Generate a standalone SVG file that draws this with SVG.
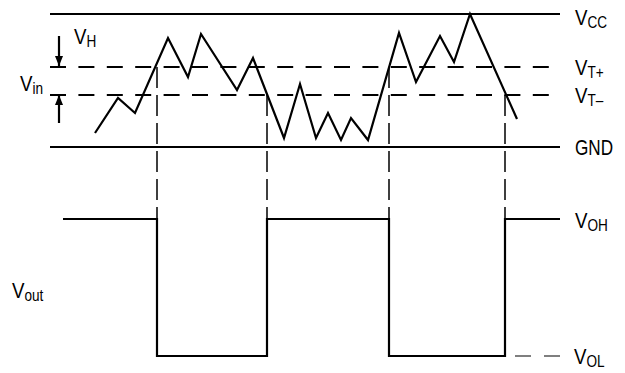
<svg xmlns="http://www.w3.org/2000/svg" width="625" height="373" viewBox="0 0 625 373">
<style>
.solid{stroke:#000;stroke-width:2.2;fill:none}
.hdash{stroke:#000;stroke-width:2.2;fill:none;stroke-dasharray:16 12.4}
.vdash{stroke:#000;stroke-width:1.5;fill:none;stroke-dasharray:21 7}
.lbl{font-family:"Liberation Sans",Arial,sans-serif;font-size:22px;fill:#000}
.sub{font-size:16px}
</style>
<defs>
<marker id="ah" viewBox="0 0 10 14" refX="10" refY="7" markerWidth="11" markerHeight="14" markerUnits="userSpaceOnUse" orient="auto">
<path d="M0,3 L10,7 L0,11 Z" fill="#000"/>
</marker>
</defs>
<g id="connectors">
<line id="vcc-line" class="solid" x1="50" y1="14" x2="560" y2="14"/>
<line id="vtp-line" class="hdash" x1="50" y1="67" x2="560" y2="67"/>
<line id="vtm-line" class="hdash" x1="50" y1="95" x2="560" y2="95"/>
<line id="gnd-line" class="solid" x1="50" y1="147" x2="560" y2="147"/>
<polyline id="vin-wave" class="solid" stroke-linejoin="miter" points="95,133 118,98 135,113 168,38 188,77 201,34 237,90 253,58 284,138 300,84 316,138 328,113 341,140 351,118 368,140 399,33 416,82 440,36 454,62 470,14 517,119"/>
<line class="vdash" x1="157" y1="67" x2="157" y2="219"/>
<line class="vdash" x1="267" y1="95" x2="267" y2="219"/>
<line class="vdash" x1="389" y1="67" x2="389" y2="219"/>
<line class="vdash" x1="505" y1="95" x2="505" y2="219"/>
<polyline id="vout-wave" class="solid" points="63,219 157,219 157,356 267,356 267,219 389,219 389,356 505,356 505,219 560,219"/>
<line id="vol-dash" x1="515" y1="356" x2="560" y2="356" stroke="#555" stroke-width="1.4" stroke-dasharray="16 13"/>
<line id="vh-arrow-down" class="solid" x1="59" y1="36" x2="59" y2="66" marker-end="url(#ah)"/>
<line id="vh-arrow-up" class="solid" x1="59" y1="123" x2="59" y2="95" marker-end="url(#ah)"/>
</g>
<g id="label-vcc" transform="translate(575,25) scale(0.85,1)"><text class="lbl">V<tspan class="sub" dy="3">CC</tspan></text></g>
<g id="label-vtp" transform="translate(575,75) scale(0.85,1)"><text class="lbl">V<tspan class="sub" dy="3">T+</tspan></text></g>
<g id="label-vtm" transform="translate(575,103) scale(0.85,1)"><text class="lbl">V<tspan class="sub" dy="3">T–</tspan></text></g>
<g id="label-gnd" transform="translate(575,155) scale(0.78,1)"><text class="lbl">GND</text></g>
<g id="label-voh" transform="translate(575,228) scale(0.85,1)"><text class="lbl">V<tspan class="sub" dy="3">OH</tspan></text></g>
<g id="label-vol" transform="translate(574,364) scale(0.85,1)"><text class="lbl">V<tspan class="sub" dy="3">OL</tspan></text></g>
<g id="label-vh" transform="translate(74,44) scale(0.85,1)"><text class="lbl">V<tspan class="sub" dy="3">H</tspan></text></g>
<g id="label-vin" transform="translate(20,91) scale(0.85,1)"><text class="lbl">V<tspan class="sub" dy="3">in</tspan></text></g>
<g id="label-vout" transform="translate(12,298) scale(0.85,1)"><text class="lbl">V<tspan class="sub" dy="3">out</tspan></text></g>
</svg>
